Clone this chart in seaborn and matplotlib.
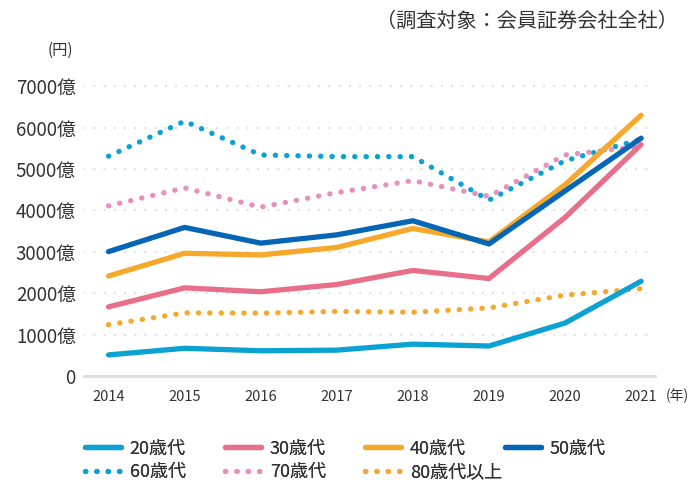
import seaborn as sns
import matplotlib.pyplot as plt
import pandas as pd

years = [2014, 2015, 2016, 2017, 2018, 2019, 2020, 2021]

# 単位: 億円
age20 = [510, 670, 610, 625, 770, 725, 1280, 2290]
age30 = [1670, 2130, 2035, 2210, 2550, 2355, 3830, 5590]
age40 = [2415, 2965, 2925, 3105, 3565, 3240, 4620, 6300]
age50 = [3005, 3590, 3210, 3410, 3750, 3190, 4470, 5745]
age60 = [5310, 6155, 5340, 5300, 5300, 4250, 5200, 5720]
age70 = [4110, 4545, 4080, 4430, 4720, 4340, 5340, 5550]
age80 = [1240, 1525, 1520, 1560, 1540, 1645, 1955, 2110]

labels = ['20歳代', '30歳代', '40歳代', '50歳代', '60歳代', '70歳代', '80歳代以上']
series = [age20, age30, age40, age50, age60, age70, age80]
colors = ['#0aa2d3', '#e86f89', '#f6a82a', '#0466b4', '#0aa2d3', '#e98fbe', '#f6a82a']
dotted = [False, False, False, False, True, True, True]

sns.set_style('white')
plt.rcParams['font.family'] = ['Noto Sans CJK JP', 'DejaVu Sans']

fig = plt.figure(figsize=(6.9, 4.83), dpi=100)
ax = fig.add_axes([0.122, 0.2215, 0.827, 0.6128])

# 描画順: 点線を先に、実線を上に
order = [4, 5, 6, 0, 1, 2, 3]
handles = {}
for i in order:
    df = pd.DataFrame({'year': years, 'value': series[i]})
    if dotted[i]:
        ls = (0, (0.05, 2.1))
    else:
        ls = '-'
    sns.lineplot(data=df, x='year', y='value', ax=ax, color=colors[i],
                 linewidth=3.8, linestyle=ls, solid_capstyle='round',
                 dash_capstyle='round', label=labels[i], legend=False)
    handles[i] = ax.lines[-1]

ax.set_xlim(2013.68, 2021.18)
ax.set_ylim(0, 7150)
ax.set_xlabel('')
ax.set_ylabel('')

yt = [0, 1000, 2000, 3000, 4000, 5000, 6000, 7000]
ax.set_yticks(yt)
ax.set_yticklabels(['0'] + [f'{v}億' for v in yt[1:]], fontsize=13.5, color='#333333')
ax.set_xticks(years)
ax.set_xticklabels([str(y) for y in years], fontsize=10.5, color='#333333')
ax.tick_params(axis='y', length=0, pad=6)
ax.tick_params(axis='x', length=5, width=1, color='#cccccc', pad=5)

for v in yt[1:]:
    ax.axhline(v, color='#e0e0e0', linewidth=1.6, linestyle=(0, (0.1, 4.5)),
               dash_capstyle='round', zorder=0)

for side in ['top', 'right', 'left']:
    ax.spines[side].set_visible(False)
ax.spines['bottom'].set_color('#dddddd')
ax.spines['bottom'].set_linewidth(2)

fig.text(0.983, 0.955, '（調査対象：会員証券会社全社）', ha='right', va='center',
         fontsize=14.5, color='#333333')
fig.text(0.088, 0.895, '(円)', ha='center', va='center', fontsize=11, color='#333333')
fig.text(0.981, 0.181, '(年)', ha='center', va='center', fontsize=10, color='#333333')

# 凡例: 列ごとに等間隔で配置
columns = [[0, 4], [1, 5], [2, 6], [3]]
col_x = [0.112, 0.315, 0.518, 0.721]
for x, col in zip(col_x, columns):
    leg = fig.legend([handles[i] for i in col], [labels[i] for i in col],
                     loc='upper left', bbox_to_anchor=(x, 0.105), frameon=False,
                     fontsize=13, handlelength=2.0, handletextpad=0.5,
                     labelspacing=0.3, borderaxespad=0, labelcolor='#333333')
    fig.add_artist(leg)

fig.savefig('out.png', dpi=100)
